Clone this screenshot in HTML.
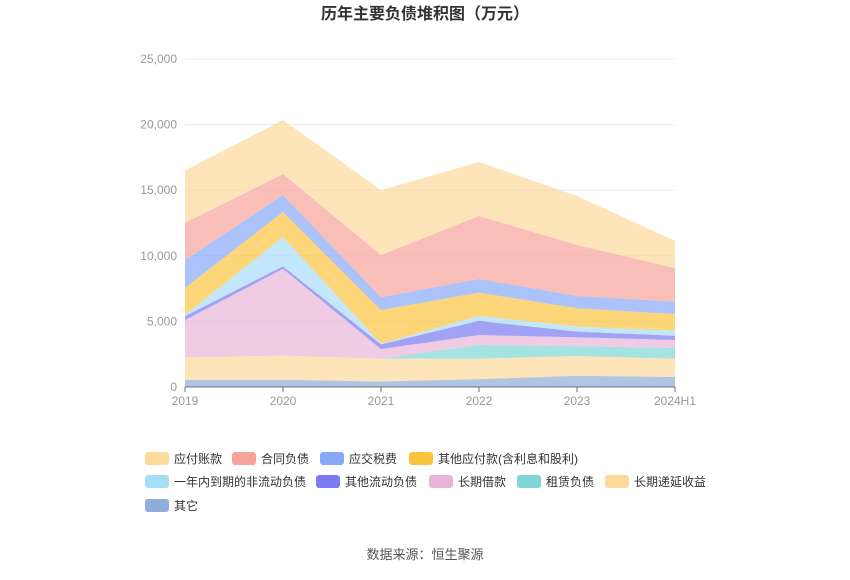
<!DOCTYPE html>
<html><head><meta charset="utf-8"><style>
body{margin:0;background:#fff;font-family:"Liberation Sans","Noto Sans CJK SC",sans-serif}
svg text{font-family:"Liberation Sans","Noto Sans CJK SC",sans-serif}
</style></head><body>
<svg id="c" width="850" height="575">
<text x="425" y="19" text-anchor="middle" font-size="16" font-weight="bold" fill="#333">历年主要负债堆积图（万元）</text>
<g id="grid"></g><g id="areas"></g><g id="axes"></g><g id="legend"></g>
<text x="425" y="559" text-anchor="middle" font-size="13" fill="#555">数据来源：恒生聚源</text>
</svg>
<script>
const categories=["2019","2020","2021","2022","2023","2024H1"];
const seriesNames=["其它","长期递延收益","租赁负债","长期借款","其他流动负债","一年内到期的非流动负债","其他应付款(含利息和股利)","应交税费","合同负债","应付账款"];
const sOther=[530,550,420,600,860,760];
const sDeferred=[1730,1840,1740,1560,1500,1400];
const sLease=[0,0,0,1040,760,810];
const sLongLoan=[2840,6610,730,760,670,610];
const sOtherCur=[300,200,360,1090,430,330];
const sOneYear=[100,2230,50,360,380,380];
const sOtherPay=[2060,1910,2570,1780,1400,1270];
const sTax=[2130,1290,970,1040,940,940];
const sContract=[2820,1600,3220,4800,3880,2570];
const sPayable=[4000,4120,4950,4120,3740,2060];
const yTicks=[0,5000,10000,15000,20000,25000];
const series=[sOther,sDeferred,sLease,sLongLoan,sOtherCur,sOneYear,sOtherPay,sTax,sContract,sPayable];
const colors=["#8fadd9","#fdd99b","#7fd6d6","#e8b5d8","#7b7bef","#a8ddf8","#fbc43e","#88a8f8","#f8a39b","#fdd99b"];
const ns="http://www.w3.org/2000/svg";
const x0=185,x1=675,y0=387,y1=59,ymax=25000;
const xs=i=>x0+i*(x1-x0)/(categories.length-1);
const ys=v=>y0-v/ymax*(y0-y1);
function mk(t,a,p){const e=document.createElementNS(ns,t);for(const k in a)e.setAttribute(k,a[k]);p.appendChild(e);return e;}
const grid=document.getElementById('grid'),axes=document.getElementById('axes'),areas=document.getElementById('areas'),leg=document.getElementById('legend');
yTicks.forEach(v=>{
 const l=mk('line',{x1:x0,x2:x1,y1:ys(v),y2:ys(v),stroke:'#e6e9ef'},grid);
 
 
 const t=mk('text',{x:x0-8,y:ys(v)+4,'text-anchor':'end','font-size':12,fill:'#999'},axes);
 t.textContent=v.toLocaleString('en-US');
 
 
});
let base=categories.map(()=>0);
series.forEach((s,k)=>{
 const top=base.map((b,i)=>b+s[i]);
 let d='M'+top.map((v,i)=>xs(i)+','+ys(v)).join('L');
 for(let i=categories.length-1;i>=0;i--)d+='L'+xs(i)+','+ys(base[i]);
 const p=mk('path',{d:d+'Z',fill:colors[k],'fill-opacity':0.7},areas);
 
 
 base=top;
});
const ax=mk('line',{x1:x0,x2:x1,y1:y0,y2:y0,stroke:'#6e7079'},axes);


categories.forEach((c,i)=>{
 mk('line',{x1:xs(i),x2:xs(i),y1:y0,y2:y0+5,stroke:'#6e7079'},axes);
 const t=mk('text',{x:xs(i),y:y0+18,'text-anchor':'middle','font-size':12,fill:'#999'},axes);
 t.textContent=c;
 
 
});
const legOrder=[9,8,7,6,5,4,3,2,1,0];
const legPos=[[145,458],[232,458],[320,458],[409,458],[145,481],[316,481],[429,481],[517,481],[605,481],[145,505]];
legOrder.forEach((k,j)=>{
 const [lx,ly]=legPos[j];
 const g=mk('g',{},leg);
 
 
 mk('rect',{x:lx,y:ly-6,width:24,height:13,rx:3,fill:colors[k]},g);
 const t=mk('text',{x:lx+29,y:ly+5,'font-size':12,fill:'#333'},g);
 t.textContent=seriesNames[k];
});
</script>
</body></html>
